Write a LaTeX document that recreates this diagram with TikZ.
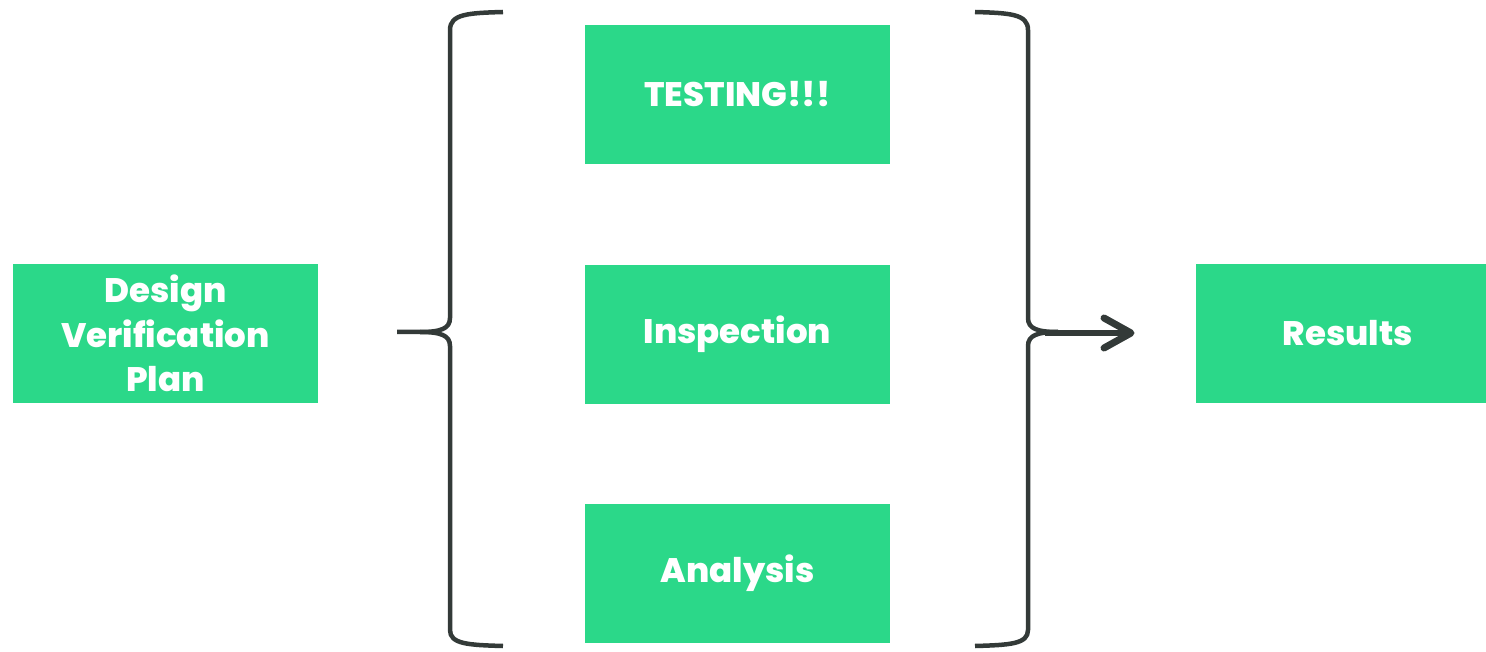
\documentclass[tikz,border=0pt]{standalone}
\usepackage{fontspec}
\setmainfont{Poppins}[BoldFont={Poppins ExtraBold}]
\definecolor{boxgreen}{HTML}{2BD889}
\definecolor{inkgray}{HTML}{333A38}
\begin{document}
\begin{tikzpicture}[x=1pt,y=-1pt,
  gbox/.style={fill=boxgreen, draw=none, minimum width=305pt, minimum height=139pt,
    inner sep=0pt, text=white, font=\bfseries\fontsize{34}{44.5}\selectfont, align=center},
  bracestyle/.style={draw=inkgray, line width=4.5pt, line cap=butt, line join=round}]
\useasboundingbox (0,0) rectangle (1486,652);
\node[gbox] (dvp) at (165.5,333.5) {Design\\Verification\\Plan};
\node[gbox] (test) at (737.5,94.5) {TESTING!!!};
\node[gbox] (insp) at (737.5,334.5) {Inspection};
\node[gbox] (anal) at (737.5,573.5) {Analysis};
\node[gbox, minimum width=290pt] (res) at (1341,333.5) {\hspace*{14pt}Results};
% left brace
\draw[bracestyle] (503,12) .. controls (468,13) and (450,14) .. (450,30)
  -- (450,318) .. controls (450,329) and (440,332) .. (420,332) -- (397,332);
\draw[bracestyle] (420,332) .. controls (440,332) and (450,335) .. (450,346)
  -- (450,630) .. controls (450,644) and (468,645) .. (503,646);
% right brace
\draw[bracestyle] (975,12) .. controls (1010,13) and (1028,14) .. (1028,30)
  -- (1028,318) .. controls (1028,329) and (1038,332) .. (1058,332);
\draw[bracestyle] (1058,332) .. controls (1038,332) and (1028,335) .. (1028,346)
  -- (1028,630) .. controls (1028,644) and (1010,645) .. (975,646);
% arrow
\coordinate (tip) at (1131,333);
\draw[draw=inkgray, line width=6.5pt] (1045,333) -- (tip);
\draw[draw=inkgray, line width=7pt, line cap=round, line join=round]
  (1104,318) -- (tip) -- (1104,348);
\end{tikzpicture}
\end{document}
